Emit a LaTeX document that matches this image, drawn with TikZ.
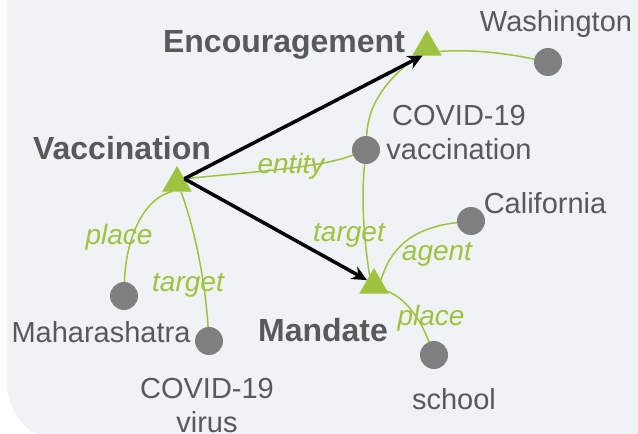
\documentclass[tikz,border=0pt]{standalone}
\usepackage{fontspec}
\setmainfont{Liberation Sans}
\usetikzlibrary{arrows.meta,shapes.geometric}

\definecolor{panel}{HTML}{EFF3F5}
\definecolor{leaf}{HTML}{A0C241}
\definecolor{dotgray}{HTML}{7F7F7F}
\definecolor{ink}{HTML}{595959}

\begin{document}
\begin{tikzpicture}[x=1pt,y=-1pt,
    event/.style={regular polygon, regular polygon sides=3, fill=leaf, minimum size=34pt, inner sep=0pt, outer sep=0pt},
    arg/.style={circle, fill=dotgray, minimum size=28pt, inner sep=0pt, outer sep=0pt},
    eventname/.style={font=\fontsize{32}{38}\selectfont\bfseries, text=ink, inner sep=0pt, anchor=base},
    argname/.style={font=\fontsize{29}{34}\selectfont, text=ink, inner sep=0pt, align=center},
    role/.style={font=\fontsize{28}{32}\selectfont\itshape, text=leaf, inner sep=0pt, anchor=base},
    roleline/.style={draw=leaf, line width=1.5pt},
    trigger/.style={draw=black, line width=3.5pt, -{Stealth[length=15pt,width=14pt]}}]
    \useasboundingbox (0,0) rectangle (638,434);
    % Draw the panel
    \fill[panel] (7,0) -- (7,383) arc[start angle=180, end angle=90, radius=60] -- (638,443) -- (638,0) -- cycle;
    % Draw the events and the arguments
    \foreach \name/\x/\y in {vacc/177/183, enc/427/47, mand/374/285}{
      \node[event] (\name) at (\x,\y) {};
    }
    \foreach \name/\x/\y in {wash/548/62, cvac/366/150, cali/471/221, maha/124/296, cvir/209/341, school/434/355}{
      \node[arg] (\name) at (\x,\y) {};
    }
    % Label the events
    \node[eventname] (encL) at (284,52) {Encouragement};
    \node[eventname] (vaccL) at (122,159) {Vaccination};
    \node[eventname] (mandL) at (323,341) {Mandate};
    % Label the arguments
    \node[argname, anchor=base] (washL) at (556,31) {Washington};
    \node[argname, anchor=north] (cvacL) at (459,105) {COVID-19\\vaccination};
    \node[argname, anchor=base] (caliL) at (545,213) {California};
    \node[argname, anchor=base] (mahaL) at (101,342) {Maharashatra};
    \node[argname, anchor=north] (cvirL) at (207,378) {COVID-19\\virus};
    \node[argname, anchor=base] (schoolL) at (454,409) {school};
    % Draw the role edges
    \draw[roleline] (enc.-20) .. controls (470,49) and (505,53) .. (wash);
    \draw[roleline] (cvac) .. controls (368,105) and (385,80) .. (enc.225);
    \draw[roleline] (vacc.side 3) .. controls (250,172) and (320,168) .. (cvac);
    \draw[roleline] (vacc.240) .. controls (145,198) and (126,235) .. (maha);
    \draw[roleline] (vacc.-65) .. controls (195,230) and (205,280) .. (cvir);
    \draw[roleline] (cvac) .. controls (361,200) and (364,240) .. (mand.115);
    \draw[roleline] (mand.35) .. controls (390,250) and (410,228) .. (cali);
    \draw[roleline] (mand.-25) .. controls (405,298) and (420,318) .. (school);
    % Name the roles
    \node[role] (entityL) at (291,173) {entity};
    \node[role] (placeA) at (119,244) {place};
    \node[role] (targetA) at (188,291) {target};
    \node[role] (targetB) at (349,241) {target};
    \node[role] (agentL) at (437,260) {agent};
    \node[role] (placeB) at (431,325) {place};
    % Draw the trigger arrows
    \draw[trigger] (vacc.side 3) -- (enc.243);
    \draw[trigger] (vacc.side 3) -- (mand.145);
\end{tikzpicture}
\end{document}
